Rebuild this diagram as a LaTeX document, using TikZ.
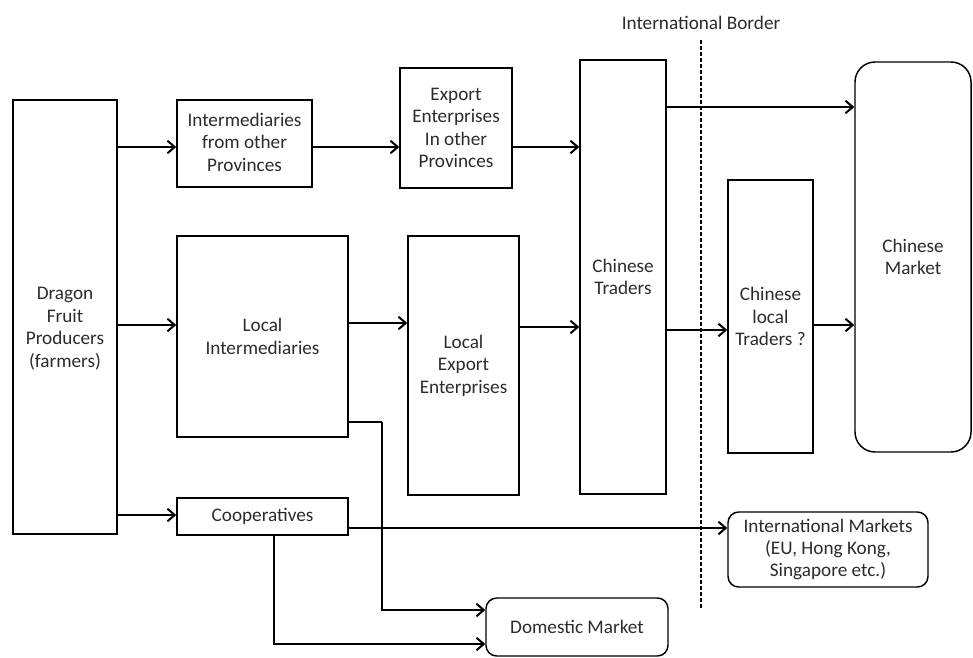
\documentclass[tikz,border=0pt]{standalone}
\usepackage{fontspec}
\setmainfont{Carlito}
\usetikzlibrary{arrows.meta}
\definecolor{txt}{HTML}{2B2B2B}
\tikzset{
	box/.style={draw, line width=1.1pt, inner sep=0pt, align=center, text=txt,
		font=\fontsize{14.4}{16.8}\selectfont},
	sz/.style 2 args={minimum width=#1*0.75pt, minimum height=#2*0.75pt},
	rbox/.style={box, rounded corners=#1},
	arr/.style={line width=1.1pt, -{Straight Barb[length=5.5pt,width=9.5pt,line width=1.5pt]}},
	lin/.style={line width=1.1pt},
	border/.style={line width=1.1pt, dash pattern=on 3pt off 1.5pt}
}
\begin{document}
\begin{tikzpicture}[x=0.75pt,y=-0.75pt]
			\useasboundingbox (0,0) rectangle (973,657);
			% boxes
			\node[box, sz={104}{434}] (prod) at (65,317) {\\[0.7em]Dragon\\Fruit\\Producers\\(farmers)};
			\node[box, sz={135}{87}] (interprov) at (244.5,143.5) {\\[-0.6em]Intermediaries\\from other\\Provinces};
			\node[box, sz={112}{120}] (expprov) at (456,128) {Export\\Enterprises\\In other\\Provinces};
			\node[box, sz={171}{201}] (locint) at (262.5,336.5) {Local\\Intermediaries};
			\node[box, sz={111}{259}] (locexp) at (463.5,365.5) {Local\\Export\\Enterprises};
			\node[box, sz={171}{37}] (coop) at (262.5,516.5) {Cooperatives};
			\node[box, sz={86}{434}] (chtrade) at (623,277) {Chinese\\Traders};
			\node[box, sz={85}{273}] (chlocal) at (770.5,316.5) {Chinese\\local\\Traders ?};
			\node[rbox=15pt, sz={116}{390}] (chmkt) at (913,257) {Chinese\\Market};
			\node[rbox=8pt, sz={200}{75}] (intmkt) at (828,549.5) {International Markets\\(EU, Hong Kong,\\Singapore etc.)};
			\node[rbox=8pt, sz={182}{58}] (dommkt) at (577,627) {Domestic Market};
			% border
			\coordinate (b1) at (701,40);
			\coordinate (b2) at (701,608);
			\draw[border] (b1) -- (b2);
			\node[text=txt, font=\fontsize{14.4}{16.8}\selectfont] (blabel) at (701,23) {International Border};
			% flows
			\draw[arr] (prod.east |- 0,147) -- (interprov.west |- 0,147);
			\draw[arr] (interprov.east |- 0,147) -- (expprov.west |- 0,147);
			\draw[arr] (expprov.east |- 0,147) -- (chtrade.west |- 0,147);
			\draw[arr] (chtrade.east |- 0,107) -- (chmkt.west |- 0,107);
			\draw[arr] (prod.east |- 0,325) -- (locint.west |- 0,325);
			\draw[arr] (locint.east |- 0,323) -- (locexp.west |- 0,323);
			\draw[arr] (locexp.east |- 0,327) -- (chtrade.west |- 0,327);
			\draw[arr] (chtrade.east |- 0,330) -- (chlocal.west |- 0,330);
			\draw[arr] (chlocal.east |- 0,325) -- (chmkt.west |- 0,325);
			\draw[arr] (prod.east |- 0,515) -- (coop.west |- 0,515);
			\draw[arr] (coop.east |- 0,528) -- (intmkt.west |- 0,528);
			\coordinate (c1) at (382,422);
			\draw[lin] (locint.east |- c1) -- (c1);
			\draw[arr] (c1) |- (dommkt.west |- 0,610);
			\draw[arr] (274,0 |- coop.south) |- (dommkt.west |- 0,644);
\end{tikzpicture}
\end{document}
